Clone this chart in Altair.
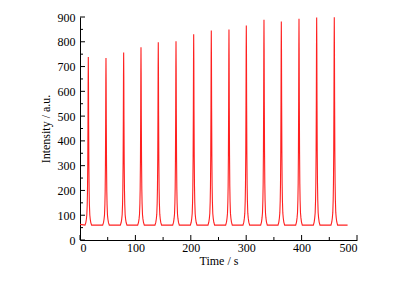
import altair as alt
import pandas as pd

# Peak apex times (s) and apex intensities (a.u.)
peak_times = [15.0, 46.9, 78.8, 110.1, 141.3, 173.3, 205.2, 237.0, 268.9,
              300.2, 332.1, 363.4, 395.3, 427.2, 459.0]
peak_heights = [739, 735, 757, 778, 798, 802, 830, 845, 850, 866, 889, 882,
                893, 898, 899]
baseline_level = 60
start_level = 63
end_time = 483

# Peak profile: offset from apex (s) and fraction of apex height above baseline
profile_offsets = [0.0, 0.3, 0.6, 1.0, 1.5, 2.0, 2.7, 3.5, 4.5, 6.0]
profile_fractions = [1.0, 0.86, 0.6, 0.36, 0.2, 0.12, 0.06, 0.035, 0.015, 0.0]

x_major = [0, 100, 200, 300, 400, 500]
x_minor = [50, 150, 250, 350, 450]
y_major = [0, 100, 200, 300, 400, 500, 600, 700, 800, 900]
y_minor = [50, 150, 250, 350, 450, 550, 650, 750, 850]

rows = [(0.0, start_level)]
for c, h in zip(peak_times, peak_heights):
    for o, f in reversed(list(zip(profile_offsets, profile_fractions))[1:]):
        rows.append((c - o, baseline_level + f * (h - baseline_level)))
    for o, f in zip(profile_offsets, profile_fractions):
        rows.append((c + o, baseline_level + f * (h - baseline_level)))
rows.append((end_time, baseline_level))
df = pd.DataFrame(rows, columns=["t", "v"]).sort_values("t")

W, H = 277, 223
xs = alt.Scale(domain=[0, 500], nice=False, zero=False)
ys = alt.Scale(domain=[0, 900], nice=False)

x_axis = alt.Axis(values=x_major, tickSize=0, labelPadding=2,
                  title="Time / s", grid=False, domainColor="black",
                  labelColor="black", titleColor="black",
                  titleFontWeight="normal", titlePadding=2)
y_axis = alt.Axis(values=y_major, tickSize=0, labelPadding=5,
                  title="Intensity / a.u.", grid=False,
                  domainColor="black", labelColor="black",
                  titleColor="black", titleFontWeight="normal",
                  titlePadding=5)

line = alt.Chart(df).mark_line(color="#ff2020", strokeWidth=1.1).encode(
    x=alt.X("t:Q", scale=xs, axis=x_axis),
    y=alt.Y("v:Q", scale=ys, axis=y_axis),
)

xt_major = alt.Chart(pd.DataFrame({"t": x_major})).mark_rule(color="black").encode(
    x=alt.X("t:Q", scale=xs, axis=x_axis), y=alt.value(H), y2=alt.value(H - 5))
xt_minor = alt.Chart(pd.DataFrame({"t": x_minor})).mark_rule(color="black").encode(
    x=alt.X("t:Q", scale=xs, axis=x_axis), y=alt.value(H), y2=alt.value(H - 3))
yt_major = alt.Chart(pd.DataFrame({"v": y_major})).mark_rule(color="black").encode(
    y=alt.Y("v:Q", scale=ys, axis=y_axis), x=alt.value(0), x2=alt.value(5))
yt_minor = alt.Chart(pd.DataFrame({"v": y_minor})).mark_rule(color="black").encode(
    y=alt.Y("v:Q", scale=ys, axis=y_axis), x=alt.value(0), x2=alt.value(3))

chart = alt.layer(line, xt_major, xt_minor, yt_major, yt_minor).properties(
    width=W, height=H,
    padding={"left": 31, "top": 3, "right": 5, "bottom": 5},
).configure_view(stroke=None).configure_axis(
    labelFont="Liberation Serif", titleFont="Liberation Serif",
    labelFontSize=12, titleFontSize=12, domainWidth=1
)

chart.save("out.html", embed_options={"renderer": "svg", "actions": False})
